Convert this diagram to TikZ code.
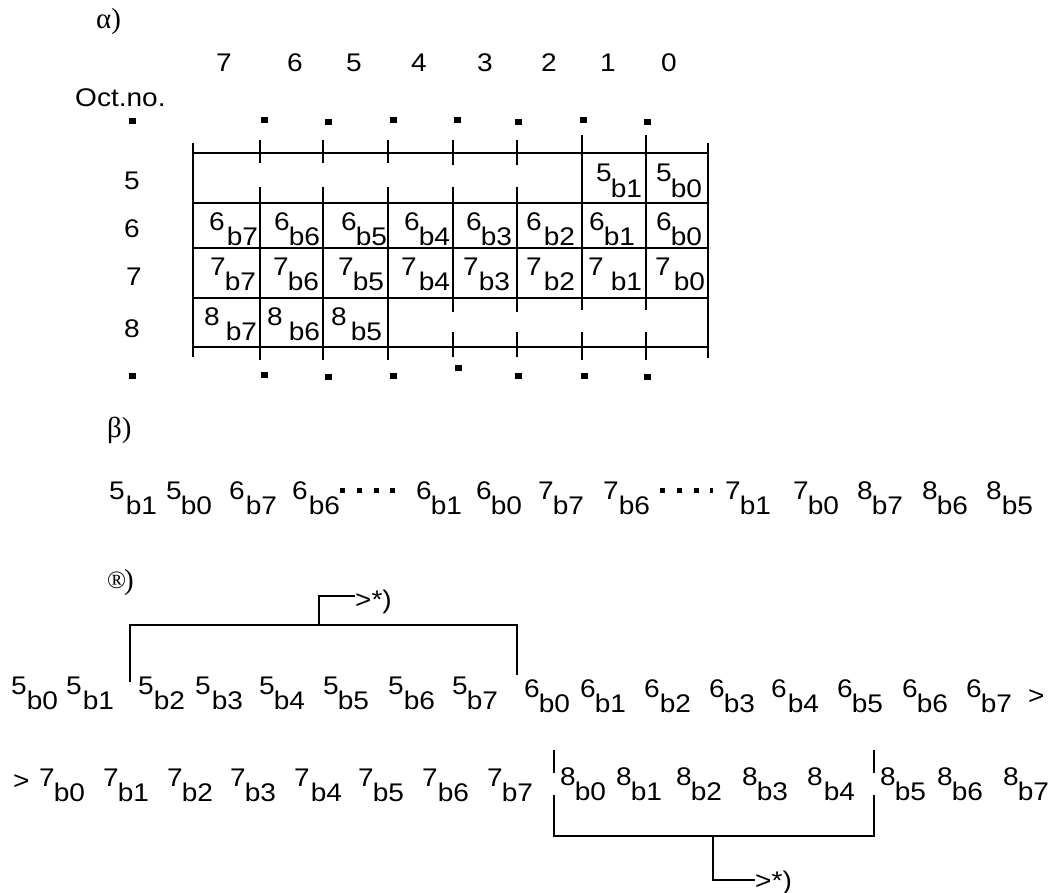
\documentclass[tikz,border=0pt]{standalone}
\usepackage{fontspec}
\setmainfont{Liberation Sans}[FakeStretch=1.1]
\newfontfamily\grk{Liberation Serif}
\usetikzlibrary{arrows}
\newcommand\bsub[3][-1pt]{#2\kern#1\raisebox{-0.6em}{#3}}
\tikzset{lbl/.style={inner sep=0pt,anchor=base west},
         grklbl/.style={lbl,font=\grk\fontsize{29}{32}\selectfont},
         gline/.style={line width=2.2pt},
         brk/.style={line width=2pt},
         dotrow/.style={line width=5pt,dash pattern=on 5pt off 11.67pt}}

\begin{document}
\begin{tikzpicture}[line cap=butt,line join=miter,x=1pt,y=-1pt,font=\fontsize{25.5}{30}\selectfont]
\useasboundingbox (0,0) rectangle (1051,893);
\node[grklbl] (alpha) at (96,29) {α)};
\node[lbl] (k7) at (216,72) {7};
\node[lbl] (k6) at (287,72) {6};
\node[lbl] (k5) at (346,72) {5};
\node[lbl] (k4) at (411,72) {4};
\node[lbl] (k3) at (477,72) {3};
\node[lbl] (k2) at (541,72) {2};
\node[lbl] (k1) at (600,72) {1};
\node[lbl] (k0) at (661,72) {0};
\node[lbl] (octno) at (75,107) {Oct.no.};
\fill (128.5,118) rectangle ++(7,6);
\fill (260.5,117) rectangle ++(7,6);
\fill (324.5,119) rectangle ++(7,6);
\fill (389.5,117) rectangle ++(7,6);
\fill (453.5,117) rectangle ++(7,6);
\fill (514.5,119) rectangle ++(7,6);
\fill (579.5,117) rectangle ++(7,6);
\fill (643.5,119) rectangle ++(7,6);
\draw[gline] (193,153) -- (708,153);
\draw[gline] (193,203) -- (708,203);
\draw[gline] (193,248) -- (708,248);
\draw[gline] (193,298) -- (708,298);
\draw[gline] (193,347) -- (708,347);
\draw[gline] (193,143) -- (193,357);
\draw[gline] (708,143) -- (708,358);
\draw[gline] (260,140) -- (260,163) (260,187) -- (260,360);
\draw[gline] (323,140) -- (323,163) (323,187) -- (323,360);
\draw[gline] (388,140) -- (388,163) (388,187) -- (388,360);
\draw[gline] (453,140) -- (453,165) (453,187) -- (453,312) (453,332) -- (453,357);
\draw[gline] (517,140) -- (517,165) (517,187) -- (517,312) (517,332) -- (517,357);
\draw[gline] (582,135) -- (582,310) (582,332) -- (582,360);
\draw[gline] (646,135) -- (646,310) (646,332) -- (646,360);
\node[lbl] (r5) at (124,190) {5};
\node[lbl] (r6) at (124,238) {6};
\node[lbl] (r7) at (126,285) {7};
\node[lbl] (r8) at (124,337) {8};
\node[lbl] (m5b1) at (596,182) {\bsub{5}{b1}};
\node[lbl] (m5b0) at (656,182) {\bsub{5}{b0}};
\node[lbl] (m6b7) at (209,230) {\bsub[2pt]{6}{b7}};
\node[lbl] (m6b6) at (274,230) {\bsub{6}{b6}};
\node[lbl] (m6b5) at (341,230) {\bsub{6}{b5}};
\node[lbl] (m6b4) at (404,230) {\bsub{6}{b4}};
\node[lbl] (m6b3) at (466,230) {\bsub{6}{b3}};
\node[lbl] (m6b2) at (526,230) {\bsub[2pt]{6}{b2}};
\node[lbl] (m6b1) at (589,230) {\bsub{6}{b1}};
\node[lbl] (m6b0) at (656,230) {\bsub{6}{b0}};
\node[lbl] (m7b7) at (210,275) {\bsub{7}{b7}};
\node[lbl] (m7b6) at (273,275) {\bsub{7}{b6}};
\node[lbl] (m7b5) at (338,275) {\bsub{7}{b5}};
\node[lbl] (m7b4) at (401,275) {\bsub[2pt]{7}{b4}};
\node[lbl] (m7b3) at (463,275) {\bsub[0pt]{7}{b3}};
\node[lbl] (m7b2) at (526,275) {\bsub[2pt]{7}{b2}};
\node[lbl] (m7b1) at (588,275) {\bsub[7pt]{7}{b1}};
\node[lbl] (m7b0) at (655,275) {\bsub[3pt]{7}{b0}};
\node[lbl] (m8b7) at (204,325) {\bsub[6pt]{8}{b7}};
\node[lbl] (m8b6) at (267,325) {\bsub[6pt]{8}{b6}};
\node[lbl] (m8b5) at (331,325) {\bsub[4pt]{8}{b5}};
\fill (128.5,373) rectangle ++(7,6);
\fill (260.5,372) rectangle ++(7,6);
\fill (324.5,374) rectangle ++(7,6);
\fill (389.5,373) rectangle ++(7,6);
\fill (454.5,365) rectangle ++(7,6);
\fill (514.5,373) rectangle ++(7,6);
\fill (580.5,373) rectangle ++(7,6);
\fill (643.5,374) rectangle ++(7,6);
\node[grklbl] (beta) at (107,437) {β)};
\node[lbl] (p5b1) at (109,499) {\bsub[1pt]{5}{b1}};
\node[lbl] (p5b0) at (166,499) {\bsub{5}{b0}};
\node[lbl] (p6b7) at (229,499) {\bsub[1pt]{6}{b7}};
\node[lbl] (p6b6) at (292,499) {\bsub[1pt]{6}{b6}};
\node[lbl] (p6b1) at (416,499) {\bsub{6}{b1}};
\node[lbl] (p6b0) at (476,499) {\bsub{6}{b0}};
\node[lbl] (p7b7) at (538,499) {\bsub{7}{b7}};
\node[lbl] (p7b6) at (603,499) {\bsub[0pt]{7}{b6}};
\node[lbl] (p7b1) at (725,499) {\bsub{7}{b1}};
\node[lbl] (p7b0) at (793,499) {\bsub{7}{b0}};
\node[lbl] (p8b7) at (857,499) {\bsub{8}{b7}};
\node[lbl] (p8b6) at (922,499) {\bsub{8}{b6}};
\node[lbl] (p8b5) at (986,499) {\bsub[0pt]{8}{b5}};
\draw[dotrow] ([yshift=9pt]p6b6.base east) -- ++(55,0);
\draw[dotrow] ([xshift=10pt,yshift=9pt]p7b6.base east) -- ++(53,0);
\node[grklbl] (gamma) at (107,589) {\raisebox{1pt}{\fontsize{25}{28}\selectfont ®}\kern-2pt)};
\node[lbl] (s5b0) at (11,694) {\bsub[0pt]{5}{b0}};
\node[lbl] (s5b1) at (66,694) {\bsub[1pt]{5}{b1}};
\node[lbl] (s5b2) at (138,694) {\bsub[0pt]{5}{b2}};
\node[lbl] (s5b3) at (195,694) {\bsub[1pt]{5}{b3}};
\node[lbl] (s5b4) at (259,694) {\bsub{5}{b4}};
\node[lbl] (s5b5) at (323,694) {\bsub{5}{b5}};
\node[lbl] (s5b6) at (388,694) {\bsub[0pt]{5}{b6}};
\node[lbl] (s5b7) at (452,694) {\bsub{5}{b7}};
\node[lbl] (s6b0) at (524,697) {\bsub{6}{b0}};
\node[lbl] (s6b1) at (580,697) {\bsub{6}{b1}};
\node[lbl] (s6b2) at (644,697) {\bsub[0pt]{6}{b2}};
\node[lbl] (s6b3) at (709,697) {\bsub{6}{b3}};
\node[lbl] (s6b4) at (771,697) {\bsub[1pt]{6}{b4}};
\node[lbl] (s6b5) at (837,697) {\bsub{6}{b5}};
\node[lbl] (s6b6) at (902,697) {\bsub{6}{b6}};
\node[lbl] (s6b7) at (966,697) {\bsub{6}{b7}};
\node[lbl] (s6more) at (1028,704) {>};
\node[lbl] (t7less) at (13,789) {>};
\node[lbl] (t7b0) at (39,786) {\bsub{7}{b0}};
\node[lbl] (t7b1) at (103,786) {\bsub{7}{b1}};
\node[lbl] (t7b2) at (167,786) {\bsub{7}{b2}};
\node[lbl] (t7b3) at (230,786) {\bsub{7}{b3}};
\node[lbl] (t7b4) at (294,786) {\bsub[1pt]{7}{b4}};
\node[lbl] (t7b5) at (358,786) {\bsub{7}{b5}};
\node[lbl] (t7b6) at (422,786) {\bsub[0pt]{7}{b6}};
\node[lbl] (t7b7) at (487,786) {\bsub{7}{b7}};
\node[lbl] (t8b0) at (560,785) {\bsub{8}{b0}};
\node[lbl] (t8b1) at (616,785) {\bsub{8}{b1}};
\node[lbl] (t8b2) at (676,785) {\bsub{8}{b2}};
\node[lbl] (t8b3) at (742,785) {\bsub{8}{b3}};
\node[lbl] (t8b4) at (807,785) {\bsub[1pt]{8}{b4}};
\node[lbl] (t8b5) at (880,785) {\bsub{8}{b5}};
\node[lbl] (t8b6) at (937,785) {\bsub{8}{b6}};
\node[lbl] (t8b7) at (1003,785) {\bsub{8}{b7}};
\coordinate (upl) at (130,682);
\coordinate (upr) at (517,675);
\coordinate (uprtop) at (517,625);
\coordinate (upmid) at (319,625);
\node[lbl] (topnote) at (355,608) {>*)};
\draw[brk] (upl) |- (uprtop) -- (upr);
\draw[brk] (upmid) |- ([yshift=12pt]topnote.base west);
\draw[brk] (554,750) -- (554,773);
\draw[brk] (874,750) -- (874,773);
\coordinate (lowl) at (554,795);
\coordinate (lowr) at (874,795);
\coordinate (lowrbot) at (874,836);
\coordinate (lowmid) at (713,836);
\node[lbl] (botnote) at (755,889) {>*)};
\draw[brk] (lowl) |- (lowrbot) -- (lowr);
\draw[brk] (lowmid) |- ([yshift=9pt]botnote.base west);
\end{tikzpicture}
\end{document}
